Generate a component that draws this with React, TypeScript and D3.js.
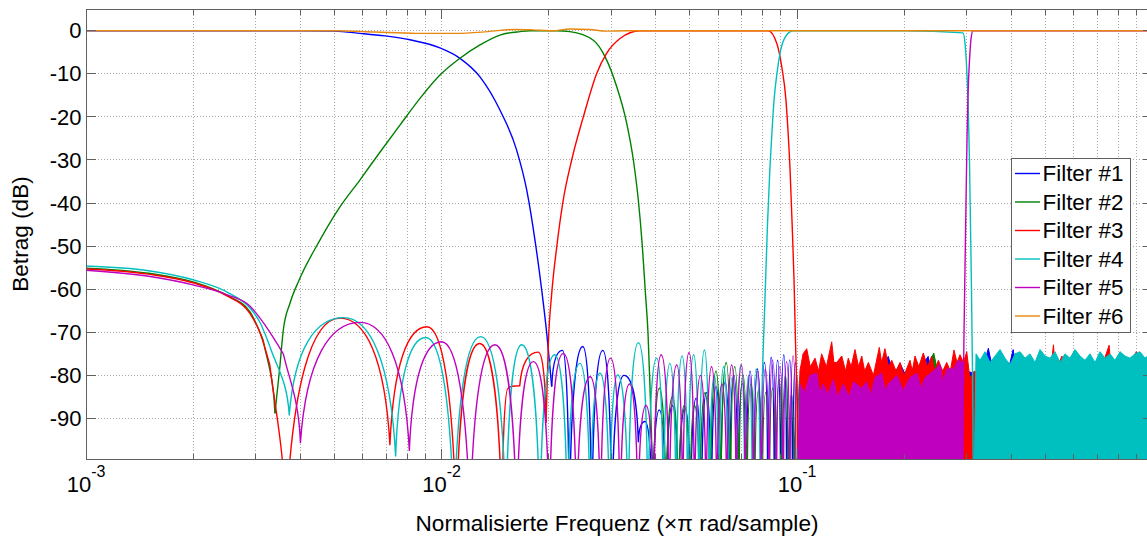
import React from 'react';
import * as d3 from 'd3';

type Pt = [number, number];

// ---------- axes / labels ----------
const xDomain: [number, number] = [1e-3, 1];
const yDomain: [number, number] = [-99.5, 5];
const yTicks = [0, -10, -20, -30, -40, -50, -60, -70, -80, -90];
const xMajorTicks = [1e-3, 1e-2, 1e-1];
const xTickExponents = ['-3', '-2', '-1'];
const legendLabels = ['Filter #1', 'Filter #2', 'Filter #3', 'Filter #4', 'Filter #5', 'Filter #6'];
const colors = ['#0000ff', '#008000', '#ff0000', '#00bfbf', '#bf00bf', '#e8870e'];
const xLabel = 'Normalisierte Frequenz (\u00d7\u03c0 rad/sample)';
const yLabel = 'Betrag (dB)';

// ---------- Filter #1 (blue, lowpass) ----------
const f1Pass: Pt[] = [[0.001,0],[0.004,0],[0.005,-0.1],[0.0059,-0.6],[0.00694,-1.2],[0.00815,-2.1],[0.0099,-4.0],[0.01127,-6.4],[0.01283,-10.7],[0.0146,-18.4],[0.01627,-27.7],[0.01737,-37],[0.01832,-48.6],[0.01914,-60.2],[0.01977,-70.2],[0.02042,-82.6]];
const f1Lobes: Pt[] = [[0.02042,-82.6],[0.0219,-74.2],[0.02288,-115],[0.02497,-73.3],[0.02646,-115],[0.02842,-74.2],[0.03013,-115],[0.0326,-80],[0.03578,-95.4],[0.0374,-90.7],[0.0392,-115],[0.041,-88],[0.0428,-115],[0.0446,-87],[0.0464,-115],[0.0484,-87.6],[0.0502,-115],[0.052,-85.3],[0.0538,-115],[0.0556,-84],[0.0574,-115],[0.0592,-82.6],[0.061,-115],[0.0628,-81.5],[0.0646,-115],[0.0664,-80],[0.0682,-115],[0.0702,-81.9],[0.072,-115],[0.0738,-79],[0.0756,-115],[0.0774,-78.5],[0.0792,-115],[0.081,-77],[0.0828,-115],[0.0846,-75.8],[0.0864,-115],[0.0882,-76.5],[0.09,-115],[0.0918,-75.2],[0.0936,-115],[0.0954,-76.4],[0.0972,-115],[0.099,-77],[0.1008,-115]];
const f1Stop: Pt[] = [[0.1008,-115],[0.102,-80],[0.11,-78],[0.12,-81],[0.13,-79],[0.14,-82],[0.15,-78],[0.16,-81],[0.17,-79],[0.1806,-75.6],[0.187,-80],[0.1949,-77.2],[0.205,-81],[0.22,-79],[0.2338,-75.6],[0.24,-80],[0.26,-79],[0.28,-81],[0.3,-79],[0.33,-80],[0.3453,-73.7],[0.356,-79],[0.3687,-76.4],[0.38,-80],[0.395,-78],[0.4055,-74],[0.415,-79],[0.45,-80],[0.4877,-74.5],[0.5,-79],[0.55,-80],[0.6,-74.8],[0.61,-79],[0.7,-80],[0.8,-79],[0.9,-80],[1,-79]];

// ---------- Filter #2 (green) ----------
const f2Lower: Pt[] = [[0.001,-55.1],[0.0015,-56.3],[0.002,-58.3],[0.0025,-61.5],[0.00289,-65.2],[0.00315,-71.8]];
const f2Null: Pt[] = [[0.00315,-71.8],[0.0034,-88.8]];
const f2Pass: Pt[] = [[0.0034,-88.8],[0.00351,-78],[0.00359,-69.4],[0.00375,-63.2],[0.00398,-57.8],[0.00455,-48.6],[0.00518,-40.9],[0.0059,-34.6],[0.00671,-28.2],[0.00764,-21.9],[0.0087,-15.7],[0.0099,-10.3],[0.01127,-6.4],[0.01283,-3.3],[0.0146,-1],[0.01663,-0.2],[0.01774,0],[0.021,0],[0.02298,-0.2],[0.02673,-2.2],[0.02884,-6],[0.03111,-13],[0.03319,-21.5],[0.03465,-30],[0.03578,-39.3],[0.03673,-50.1],[0.03747,-61],[0.0381,-70.2],[0.03856,-81.8],[0.03895,-93.4]];
const f2Lobes: Pt[] = [[0.03895,-93.4],[0.0394,-115],[0.041,-83],[0.0428,-115],[0.0446,-85],[0.0464,-115],[0.0482,-87],[0.05,-115],[0.0515,-87],[0.0533,-115],[0.0551,-84],[0.057,-115],[0.0592,-79],[0.061,-115],[0.0632,-77],[0.065,-115],[0.0668,-78],[0.0686,-115],[0.0705,-80],[0.0723,-115],[0.0742,-82],[0.076,-115],[0.078,-83.4],[0.0798,-115],[0.0817,-84],[0.0835,-115],[0.0854,-83],[0.0872,-115],[0.0891,-81],[0.0909,-115],[0.0928,-80],[0.0946,-115],[0.0965,-84.3],[0.0983,-115],[0.1,-80],[0.1018,-115]];
const f2Stop: Pt[] = [[0.1018,-115],[0.103,-82],[0.1098,-78],[0.12,-83],[0.1265,-79],[0.135,-82],[0.15,-80],[0.165,-83],[0.18,-79],[0.195,-82],[0.2177,-77],[0.225,-81],[0.2425,-74.8],[0.25,-80],[0.27,-82],[0.3,-80],[0.4,-82],[0.5,-81],[0.6,-82],[0.8,-81],[1,-82]];

// ---------- Filter #3 (red) ----------
const f3Lower: Pt[] = [[0.001,-55.3],[0.0015,-56.5],[0.002,-58.5],[0.0025,-61.6],[0.00289,-65.6],[0.00309,-70.2],[0.00329,-77.6]];
const f3Lobes: Pt[] = [[0.00329,-77.6],[0.00365,-115],[0.00518,-66.7],[0.00716,-96.1],[0.0091,-68.7],[0.011,-115],[0.0128,-72.6],[0.0148,-115],[0.0154,-83],[0.0166,-82.4],[0.0187,-74.6],[0.01968,-91]];
const f3Pass: Pt[] = [[0.01968,-91],[0.01998,-72.5],[0.02042,-61],[0.0211,-50.1],[0.022,-39.3],[0.02324,-30],[0.02506,-20],[0.02733,-9.9],[0.02916,-5.2],[0.03178,-1.8],[0.03618,0],[0.06,0],[0.083,0],[0.0877,-2.9],[0.0906,-8.4],[0.0931,-16.1],[0.0943,-23],[0.0956,-32.3],[0.0968,-44],[0.0981,-57.9],[0.099,-71.8],[0.1,-85.7],[0.1012,-115]];
const f3Stop: Pt[] = [[0.1012,-115],[0.1019,-79],[0.104,-75],[0.1065,-73.8],[0.109,-78],[0.1124,-76],[0.115,-79],[0.1173,-75],[0.121,-78],[0.1252,-72.2],[0.127,-77],[0.1293,-77],[0.1336,-75.5],[0.137,-79],[0.1394,-76],[0.142,-78],[0.1456,-74],[0.149,-78],[0.1521,-75.5],[0.155,-79],[0.1588,-77],[0.164,-80],[0.1704,-73.5],[0.173,-77],[0.1768,-73.8],[0.181,-78],[0.1847,-76.5],[0.19,-79],[0.1949,-77],[0.2,-80],[0.2079,-76.5],[0.211,-79],[0.2148,-75.5],[0.22,-78],[0.2266,-74.8],[0.233,-78],[0.2393,-75.5],[0.244,-79],[0.2498,-76.5],[0.257,-79],[0.2638,-77],[0.27,-79],[0.2764,-74.1],[0.282,-77],[0.2874,-75.2],[0.294,-77],[0.3002,-74.5],[0.3067,-81],[0.315,-79],[0.33,-80],[0.36,-79],[0.4,-80],[0.45,-79],[0.5,-80],[0.52,-77],[0.5265,-72.9],[0.533,-79],[0.5566,-75.5],[0.57,-80],[0.62,-79],[0.68,-80],[0.72,-78],[0.755,-73],[0.765,-79],[0.8,-75.5],[0.84,-80],[0.9,-74.5],[0.94,-79],[1,-78]];

// ---------- Filter #4 (cyan) ----------
const f4Lower: Pt[] = [[0.001,-54.6],[0.0015,-55.7],[0.002,-57.8],[0.00254,-61],[0.00289,-64.3],[0.0031,-68],[0.00329,-73.3]];
const f4Lobes: Pt[] = [[0.00329,-73.3],[0.00373,-89.2],[0.0053,-66.6],[0.00743,-98.7],[0.00903,-71.2],[0.01084,-115],[0.01289,-71],[0.01519,-115],[0.01681,-72.9],[0.0189,-115],[0.0208,-75.2],[0.0226,-115],[0.0245,-77.2],[0.0262,-115],[0.0279,-79.5],[0.0297,-115],[0.0313,-79.9],[0.0335,-115],[0.0358,-72.4],[0.0381,-115],[0.0403,-76],[0.0421,-115],[0.0439,-77.2],[0.0457,-115],[0.0475,-75.5],[0.0493,-115],[0.0512,-75.2],[0.053,-115],[0.0549,-74.1],[0.0567,-115],[0.0585,-80],[0.0603,-115],[0.0622,-78],[0.064,-115],[0.0658,-80.5],[0.0676,-115],[0.0695,-77.5],[0.0713,-115],[0.0731,-80],[0.0749,-115],[0.0768,-78.5],[0.0789,-115]];
const f4Pass: Pt[] = [[0.0789,-115],[0.0797,-85],[0.0805,-72],[0.0813,-62],[0.0826,-45],[0.0839,-32],[0.0851,-23],[0.0862,-16],[0.0878,-10],[0.0896,-5.2],[0.0935,-1],[0.0976,0],[0.2,0],[0.2931,-0.5],[0.2969,-3],[0.2998,-8],[0.3027,-16],[0.3056,-30],[0.3076,-45],[0.3096,-60],[0.3112,-75],[0.3126,-90],[0.3136,-115]];
const f4Stop: Pt[] = [[0.3136,-115],[0.3188,-75],[0.3272,-76.5],[0.338,-74.5],[0.3491,-77],[0.3606,-75.5],[0.3725,-74],[0.3847,-76],[0.3974,-77.5],[0.4105,-75],[0.424,-74.5],[0.4379,-76],[0.4523,-75],[0.4672,-77],[0.4826,-74],[0.4985,-75.5],[0.5149,-76],[0.5318,-74.5],[0.5493,-77],[0.5674,-75],[0.5861,-76],[0.6053,-74],[0.6252,-75.5],[0.6458,-76.5],[0.6671,-75],[0.6891,-77],[0.7117,-74.5],[0.7352,-76],[0.7594,-75],[0.7843,-76.5],[0.8102,-74.5],[0.8368,-75.5],[0.8644,-76],[0.8928,-75],[0.9222,-74.5],[0.9526,-76],[0.984,-75],[1,-75.5]];

// ---------- Filter #5 (magenta, highpass) ----------
const f5Lower: Pt[] = [[0.001,-55.6],[0.0015,-57],[0.002,-59],[0.0025,-61.3],[0.00289,-63.9],[0.0032,-68.5],[0.00359,-75]];
const f5Lobes: Pt[] = [[0.00359,-75],[0.00401,-95.6],[0.0059,-67.7],[0.00812,-97.4],[0.01,-72.2],[0.01203,-115],[0.01414,-72.9],[0.01627,-115],[0.01813,-76.8],[0.0201,-115],[0.022,-74.9],[0.024,-115],[0.0262,-80.3],[0.028,-115],[0.0299,-76],[0.0318,-115],[0.0338,-82],[0.0357,-115],[0.0376,-87],[0.0395,-115],[0.0415,-75.2],[0.0437,-115],[0.0459,-77.6],[0.0477,-115],[0.0497,-74.7],[0.0515,-115],[0.0535,-80],[0.0555,-115],[0.0575,-78],[0.0595,-115],[0.0615,-82],[0.0635,-115],[0.0655,-77.6],[0.0675,-115],[0.0698,-77.6],[0.0715,-115],[0.0735,-80],[0.0755,-115],[0.0775,-79],[0.0795,-115],[0.0815,-78.5],[0.0835,-115],[0.0853,-76.4],[0.0875,-115],[0.0895,-78],[0.0915,-115],[0.0935,-76.8],[0.0955,-115],[0.0975,-75.5],[0.0995,-115]];
const f5Stop: Pt[] = [[0.0995,-115],[0.1019,-82],[0.105,-84],[0.1088,-80],[0.1136,-79.5],[0.116,-84],[0.1186,-82],[0.122,-84.5],[0.1265,-81],[0.13,-85],[0.135,-82],[0.14,-85],[0.144,-81.5],[0.1521,-83],[0.157,-81.5],[0.161,-84.5],[0.1658,-80.5],[0.1731,-79.5],[0.177,-83.5],[0.1806,-82],[0.1908,-80],[0.1991,-83.5],[0.2079,-80.5],[0.2177,-79.5],[0.223,-83],[0.2292,-80.5],[0.2418,-79],[0.2524,-77.5],[0.258,-81.5],[0.2638,-78.5],[0.2753,-78.5],[0.2842,-76.5],[0.2921,-77],[0.2921,-115]];
const f5Pass: Pt[] = [[0.2921,-115],[0.2936,-85],[0.295,-70],[0.2969,-55],[0.2988,-40],[0.3008,-25],[0.3027,-15],[0.3056,-7],[0.3086,-2],[0.3126,0],[1,0]];

// ---------- Filter #6 (orange, ~allpass) ----------
const f6Resp: Pt[] = [[0.001,0],[0.005,0],[0.0065,-0.3],[0.0085,-0.6],[0.011,-0.6],[0.0135,-0.2],[0.016,0.3],[0.018,0.2],[0.0205,0],[0.023,0.4],[0.026,0.3],[0.029,-0.1],[0.033,0],[1,0]];

const W = 1147;
const H = 538;
const plot = { left: 86, right: 1152.5, top: 9.2, bottom: 459.4 };
const FONT = '"Liberation Sans", Arial, Helvetica, sans-serif';

function lobePath(pts: Pt[], x: (v: number) => number, y: (v: number) => number): string {
  const p = d3.path();
  pts.forEach((d, i) => {
    const X = x(d[0]);
    const Y = y(d[1]);
    if (i === 0) { p.moveTo(X, Y); return; }
    const PX = x(pts[i - 1][0]);
    const PY = y(pts[i - 1][1]);
    const dx = X - PX;
    const dy = Y - PY;
    if (i === 1) {
      if (dy > 0) p.bezierCurveTo(PX + 0.35 * dx, PY + 0.3 * dy, X - 0.1 * dx, Y - 0.5 * dy, X, Y);
      else p.bezierCurveTo(PX + 0.1 * dx, PY + 0.7 * dy, PX + 0.5 * dx, Y, X, Y);
      return;
    }
    if (dy < 0) p.bezierCurveTo(PX + 0.1 * dx, PY + 0.7 * dy, PX + 0.5 * dx, Y, X, Y);
    else p.bezierCurveTo(PX + 0.5 * dx, PY, X - 0.1 * dx, Y - 0.7 * dy, X, Y);
  });
  return p.toString();
}

export default function App() {
  const x = d3.scaleLog().domain(xDomain).range([plot.left, plot.right]);
  const y = d3.scaleLinear().domain(yDomain).range([plot.bottom, plot.top]);
  const line = d3.line<Pt>().x(d => x(d[0])).y(d => y(d[1])).curve(d3.curveMonotoneX);
  const area = d3.area<Pt>().x(d => x(d[0])).y0(y(-115)).y1(d => y(d[1])).curve(d3.curveLinear);

  const filters = [
    { stop: f1Stop, smooth: [f1Pass], lobes: [f1Lobes] },
    { stop: f2Stop, smooth: [f2Lower, f2Pass], lobes: [f2Null, f2Lobes] },
    { stop: f3Stop, smooth: [f3Lower, f3Pass], lobes: [f3Lobes] },
    { stop: f4Stop, smooth: [f4Lower, f4Pass], lobes: [f4Lobes] },
    { stop: f5Stop, smooth: [f5Lower, f5Pass], lobes: [f5Lobes] },
    { stop: null as Pt[] | null, smooth: [f6Resp], lobes: [] as Pt[][] },
  ];

  const allTicks = x.ticks().filter(t => t > xDomain[0] * 1.001 && t < xDomain[1] * 0.999);
  const isMajor = (t: number) => Math.abs(Math.log10(t) - Math.round(Math.log10(t))) < 1e-6;
  const gridColor = '#a8a8a8';
  const axisColor = '#606060';

  const legendX = 1011, legendY = 158.5, legendW = 119, legendH = 174;
  const rowY0 = 173.5, rowStep = 28.5;

  return (
    <svg width={W} height={H} style={{ position: 'absolute', left: 0, top: 0, display: 'block', background: '#fff' }}>
      <defs>
        <clipPath id="plotClip">
          <rect x={plot.left} y={plot.top} width={plot.right - plot.left} height={plot.bottom - plot.top} />
        </clipPath>
      </defs>
      <rect x={0} y={0} width={W} height={H} fill="#fff" />
      {/* grid */}
      <g shapeRendering="crispEdges" stroke={gridColor} strokeWidth={1} strokeDasharray="1,2">
        {allTicks.map((t, i) => (
          <line key={'gx' + i} x1={x(t)} x2={x(t)} y1={plot.top} y2={plot.bottom} />
        ))}
        {yTicks.map((v, i) => (
          <line key={'gy' + i} x1={plot.left} x2={plot.right} y1={y(v)} y2={y(v)} />
        ))}
      </g>
      {/* data */}
      <g clipPath="url(#plotClip)" fill="none" strokeWidth={1.4} strokeLinejoin="round">
        {filters.map((f, k) => (
          <g key={'f' + k} stroke={colors[k]}>
            {f.stop && <path d={area(f.stop) || ''} fill={colors[k]} strokeWidth={1} />}
            {f.smooth.map((s, j) => <path key={'s' + j} d={line(s) || ''} />)}
            {f.lobes.map((s, j) => <path key={'l' + j} d={lobePath(s, x, y)} />)}
          </g>
        ))}
      </g>
      {/* axes box & ticks */}
      <g stroke={axisColor} strokeWidth={1} shapeRendering="crispEdges" fill="none">
        <line x1={plot.left} x2={plot.right} y1={plot.top} y2={plot.top} />
        <line x1={plot.left} x2={plot.right} y1={plot.bottom} y2={plot.bottom} />
        <line x1={plot.left} x2={plot.left} y1={plot.top} y2={plot.bottom} />
        <line x1={plot.right} x2={plot.right} y1={plot.top} y2={plot.bottom} />
        {yTicks.map((v, i) => (
          <g key={'yt' + i}>
            <line x1={plot.left} x2={plot.left + 10} y1={y(v)} y2={y(v)} />
            <line x1={plot.right - 10} x2={plot.right} y1={y(v)} y2={y(v)} />
          </g>
        ))}
        {allTicks.map((t, i) => {
          const len = isMajor(t) ? 10 : 5.5;
          return (
            <g key={'xt' + i}>
              <line x1={x(t)} x2={x(t)} y1={plot.bottom} y2={plot.bottom - len} />
              <line x1={x(t)} x2={x(t)} y1={plot.top} y2={plot.top + len} />
            </g>
          );
        })}
      </g>
      {/* tick labels */}
      <g fontFamily={FONT} fill="#000">
        {yTicks.map((v, i) => (
          <text key={'yl' + i} x={81.5} y={y(v) + 7.6} textAnchor="end" fontSize={22}>{String(v)}</text>
        ))}
        {xMajorTicks.map((t, i) => (
          <text key={'xl' + i} x={x(t)} y={491.7} textAnchor="middle" fontSize={22}>
            10<tspan dy={-14.5} fontSize={16}>{xTickExponents[i]}</tspan>
          </text>
        ))}
        <text x={617} y={531} textAnchor="middle" fontSize={22.6}>{xLabel}</text>
        <text transform="translate(27.5,234) rotate(-90)" textAnchor="middle" fontSize={22.6}>{yLabel}</text>
      </g>
      {/* legend */}
      <g fontFamily={FONT}>
        <rect x={legendX} y={legendY} width={legendW} height={legendH} fill="#fff" stroke={axisColor} strokeWidth={1} shapeRendering="crispEdges" />
        {legendLabels.map((lab, i) => {
          const ry = rowY0 + i * rowStep;
          return (
            <g key={'lg' + i}>
              <line x1={1015} x2={1040} y1={ry} y2={ry} stroke={colors[i]} strokeWidth={1.4} />
              <text x={1042.5} y={ry + 7.7} fontSize={22.4} fill="#000">{lab}</text>
            </g>
          );
        })}
      </g>
    </svg>
  );
}
